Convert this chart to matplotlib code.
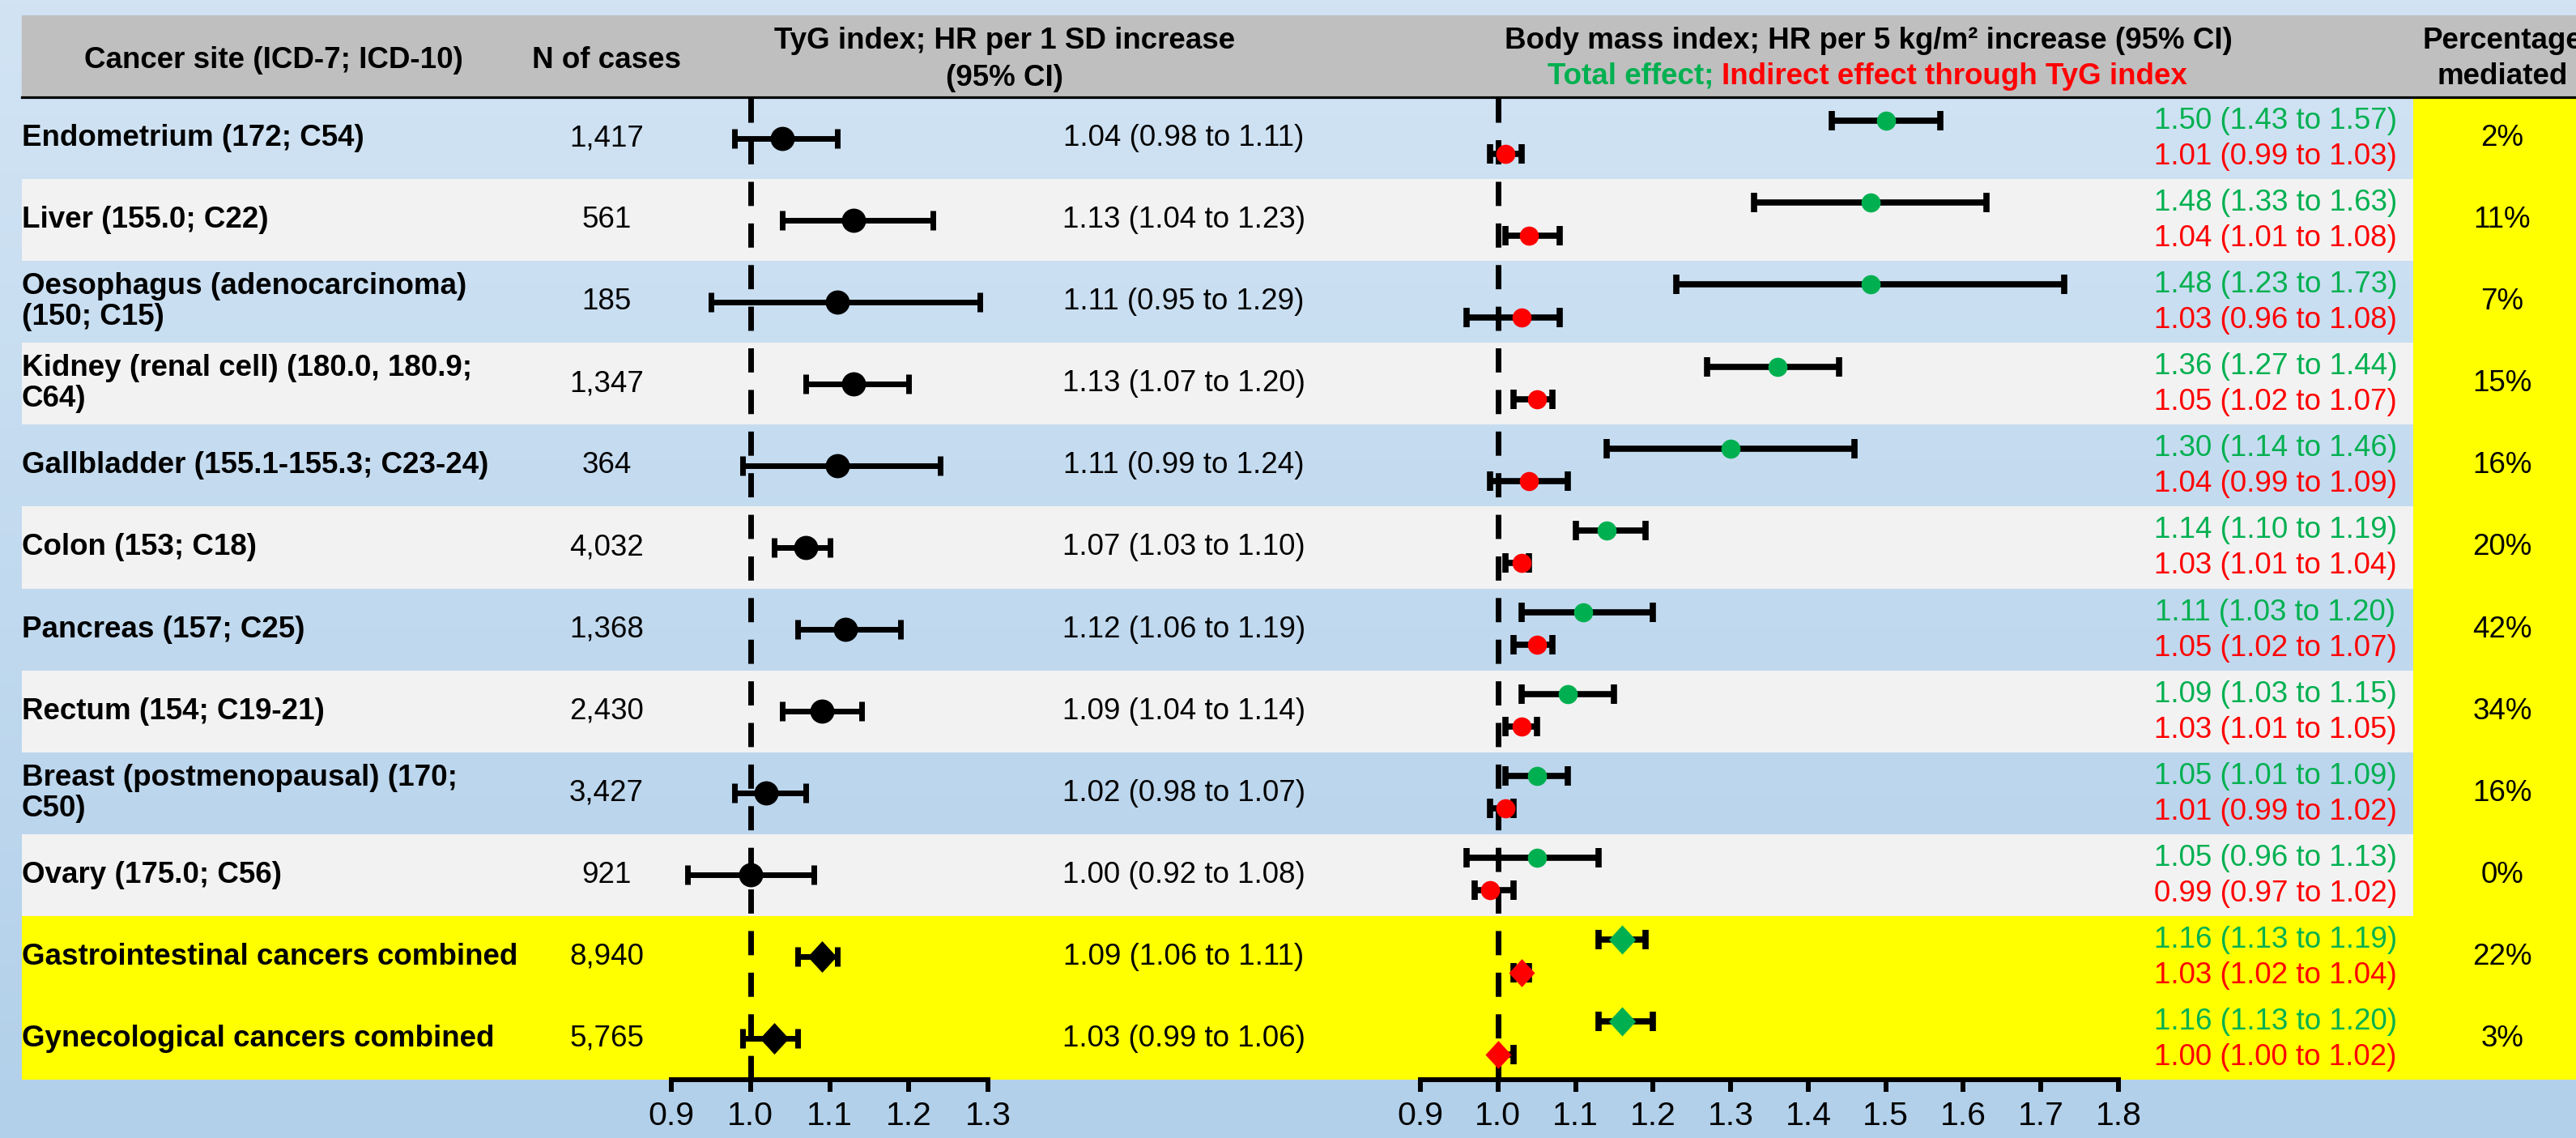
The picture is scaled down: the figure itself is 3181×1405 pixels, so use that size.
import numpy as np
import matplotlib
matplotlib.use("Agg")
import matplotlib.pyplot as plt
from matplotlib.patches import Rectangle
from matplotlib.colors import LinearSegmentedColormap

plt.rcParams['font.family'] = ['Liberation Sans', 'DejaVu Sans']

# ---- data ----
sites = ["Endometrium (172; C54)",
         "Liver (155.0; C22)",
         "Oesophagus (adenocarcinoma)\n(150; C15)",
         "Kidney (renal cell) (180.0, 180.9;\nC64)",
         "Gallbladder (155.1-155.3; C23-24)",
         "Colon (153; C18)",
         "Pancreas (157; C25)",
         "Rectum (154; C19-21)",
         "Breast (postmenopausal) (170;\nC50)",
         "Ovary (175.0; C56)",
         "Gastrointestinal cancers combined",
         "Gynecological cancers combined"]
n_cases = ["1,417", "561", "185", "1,347", "364", "4,032", "1,368", "2,430",
           "3,427", "921", "8,940", "5,765"]

tyg_hr = [1.04, 1.13, 1.11, 1.13, 1.11, 1.07, 1.12, 1.09, 1.02, 1.00, 1.09, 1.03]
tyg_lo = [0.98, 1.04, 0.95, 1.07, 0.99, 1.03, 1.06, 1.04, 0.98, 0.92, 1.06, 0.99]
tyg_hi = [1.11, 1.23, 1.29, 1.20, 1.24, 1.10, 1.19, 1.14, 1.07, 1.08, 1.11, 1.06]

bmi_tot = [1.50, 1.48, 1.48, 1.36, 1.30, 1.14, 1.11, 1.09, 1.05, 1.05, 1.16, 1.16]
bmi_tot_lo = [1.43, 1.33, 1.23, 1.27, 1.14, 1.10, 1.03, 1.03, 1.01, 0.96, 1.13, 1.13]
bmi_tot_hi = [1.57, 1.63, 1.73, 1.44, 1.46, 1.19, 1.20, 1.15, 1.09, 1.13, 1.19, 1.20]

bmi_ind = [1.01, 1.04, 1.03, 1.05, 1.04, 1.03, 1.05, 1.03, 1.01, 0.99, 1.03, 1.00]
bmi_ind_lo = [0.99, 1.01, 0.96, 1.02, 0.99, 1.01, 1.02, 1.01, 0.99, 0.97, 1.02, 1.00]
bmi_ind_hi = [1.03, 1.08, 1.08, 1.07, 1.09, 1.04, 1.07, 1.05, 1.02, 1.02, 1.04, 1.02]

pct_mediated = ["2%", "11%", "7%", "15%", "16%", "20%", "42%", "34%", "16%", "0%", "22%", "3%"]

n_single = 10
ticks_tyg = [0.9, 1.0, 1.1, 1.2, 1.3]
ticks_bmi = [0.9, 1.0, 1.1, 1.2, 1.3, 1.4, 1.5, 1.6, 1.7, 1.8]

GREEN = "#00b050"
RED = "#ff0000"
YELLOW = "#ffff00"
FS = 26.5

W, H = 3181, 1405
TOP, BOT = 120, 1333
LEFT = 27
nrow = len(sites)
rh = (BOT - TOP) / nrow

fig = plt.figure(figsize=(W / 100, H / 100), dpi=100)

# background / table layout in pixel coordinates
bg = fig.add_axes([0, 0, 1, 1])
bg.set_xlim(0, W)
bg.set_ylim(H, 0)
bg.axis('off')
cmap = LinearSegmentedColormap.from_list('bg', ["#d2e4f4", "#b2d0ea"])
bg.imshow(np.linspace(0, 1, 256).reshape(-1, 1), cmap=cmap, extent=[0, W, H, 0],
          aspect='auto', zorder=0)

bg.add_patch(Rectangle((LEFT, 19), W - LEFT, TOP - 19, color="#bfbfbf", zorder=1))
bg.plot([LEFT, W], [TOP, TOP], color='k', lw=2.3, zorder=2)

for i in range(nrow):
    y0 = TOP + i * rh
    if i >= n_single:
        bg.add_patch(Rectangle((LEFT, y0), W - LEFT, rh, color=YELLOW, lw=0, zorder=1))
    elif i % 2 == 1:
        bg.add_patch(Rectangle((LEFT, y0), 2980 - LEFT, rh, color="#f2f2f2", lw=0, zorder=1))
bg.add_patch(Rectangle((2980, TOP), W - 2980, BOT - TOP, color=YELLOW, lw=0, zorder=1))

# header
bg.text(338, 74, "Cancer site (ICD-7; ICD-10)", ha='center', va='center', fontsize=FS, fontweight='bold')
bg.text(749, 74, "N of cases", ha='center', va='center', fontsize=FS, fontweight='bold')
bg.text(1241, 50, "TyG index; HR per 1 SD increase", ha='center', va='center', fontsize=FS, fontweight='bold')
bg.text(1241, 96, "(95% CI)", ha='center', va='center', fontsize=FS, fontweight='bold')
bg.text(2307, 50, "Body mass index; HR per 5 kg/m\u00b2 increase (95% CI)", ha='center', va='center',
        fontsize=FS, fontweight='bold')
bg.text(2116, 94, "Total effect;", ha='right', va='center', fontsize=FS, fontweight='bold', color=GREEN)
bg.text(2126, 94, "Indirect effect through TyG index", ha='left', va='center', fontsize=FS,
        fontweight='bold', color=RED)
bg.text(3090, 50, "Percentage", ha='center', va='center', fontsize=FS, fontweight='bold')
bg.text(3090, 94, "mediated", ha='center', va='center', fontsize=FS, fontweight='bold')

# row texts
for i in range(nrow):
    yc = TOP + (i + 0.5) * rh
    bg.text(LEFT, yc, sites[i], ha='left', va='center', fontsize=FS, fontweight='bold',
            linespacing=1.1, zorder=3)
    bg.text(749, yc, n_cases[i], ha='center', va='center', fontsize=FS, zorder=3)
    bg.text(1462, yc, f"{tyg_hr[i]:.2f} ({tyg_lo[i]:.2f} to {tyg_hi[i]:.2f})",
            ha='center', va='center', fontsize=FS, zorder=3)
    bg.text(2810, yc - 21, f"{bmi_tot[i]:.2f} ({bmi_tot_lo[i]:.2f} to {bmi_tot_hi[i]:.2f})",
            ha='center', va='center', fontsize=FS, color=GREEN, zorder=3)
    bg.text(2810, yc + 23, f"{bmi_ind[i]:.2f} ({bmi_ind_lo[i]:.2f} to {bmi_ind_hi[i]:.2f})",
            ha='center', va='center', fontsize=FS, color=RED, zorder=3)
    bg.text(3090, yc, pct_mediated[i], ha='center', va='center', fontsize=FS, zorder=3)

diamond = [(0, 1), (0.92, 0), (0, -1), (-0.92, 0), (0, 1)]


def forest_ax(x0, x1, ticks):
    ax = fig.add_axes([x0 / W, (H - BOT) / H, (x1 - x0) / W, (BOT - TOP) / H])
    ax.set_xlim(ticks[0], ticks[-1])
    ax.set_ylim(nrow - 0.5, -0.5)
    ax.patch.set_alpha(0)
    for s in ['top', 'right', 'left']:
        ax.spines[s].set_visible(False)
    ax.spines['bottom'].set_linewidth(4.3)
    ax.set_yticks([])
    ax.set_xticks(ticks)
    ax.set_xticklabels([f"{t:.1f}" for t in ticks])
    ax.tick_params(axis='x', direction='out', length=11, width=4.3, labelsize=29.5, pad=8)
    ax.axvline(1.0, color='k', lw=5, dashes=(4.3, 3.1), zorder=1)
    return ax


def draw(ax, x, lo, hi, yoff, color, ms_dot, ms_dia, lw=5):
    x = np.array(x)
    y = np.arange(nrow) + yoff
    err = [x - np.array(lo), np.array(hi) - x]
    ax.errorbar(x, y, xerr=err, fmt='none', ecolor='k', elinewidth=lw, capsize=8.5,
                capthick=lw, zorder=2, clip_on=False)
    ax.plot(x[:n_single], y[:n_single], 'o', ms=ms_dot, color=color, mew=0, zorder=3, clip_on=False)
    ax.plot(x[n_single:], y[n_single:], marker=diamond, ls='none', ms=ms_dia, color=color,
            mew=0, zorder=3, clip_on=False)


ax1 = forest_ax(829, 1220, ticks_tyg)
draw(ax1, tyg_hr, tyg_lo, tyg_hi, 0.0, 'k', 21.5, 28)

ax2 = forest_ax(1754, 2616, ticks_bmi)
draw(ax2, bmi_tot, bmi_tot_lo, bmi_tot_hi, -0.21, GREEN, 17, 26, lw=5.5)
draw(ax2, bmi_ind, bmi_ind_lo, bmi_ind_hi, 0.19, RED, 17, 25, lw=5.5)

fig.savefig("out.png", dpi=100)
